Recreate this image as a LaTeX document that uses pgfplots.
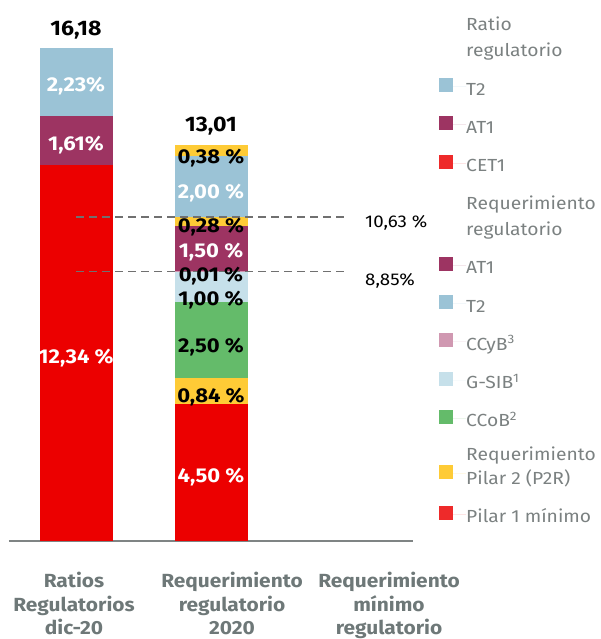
\documentclass[border=0pt]{standalone}
\usepackage{pgfplots}
\pgfplotsset{compat=1.18}
\usepackage{fontspec}
\setmainfont{Fira Sans}[FakeStretch=1.1]
\definecolor{redbar}{HTML}{EC0000}
\definecolor{redleg}{HTML}{EE2A2A}
\definecolor{tcol}{HTML}{9BC3D6}
\definecolor{atcol}{HTML}{9D3462}
\definecolor{ycol}{HTML}{FECB36}
\definecolor{gcol}{HTML}{64BB6A}
\definecolor{gsib}{HTML}{C6E0EA}
\definecolor{ccyb}{HTML}{D098B1}
\definecolor{leggray}{HTML}{7B8181}
\definecolor{tickgray}{HTML}{6E7878}
\definecolor{axgray}{HTML}{7F8484}
\definecolor{dashgray}{HTML}{707070}
\pgfplotsset{base/.style={scale only axis, width=404pt, height=541pt,
  xmin=9, xmax=413, ymin=0, ymax=17.755, enlargelimits=false, clip=false}}
\begin{document}
\begin{tikzpicture}
\begin{axis}[base,
  ybar stacked, bar width=73,
  axis x line*=bottom, axis y line=none,
  x axis line style={axgray, line width=1.6pt},
  major tick length=0pt,
  xtick={74,232,389},
  xticklabels={Ratios\\Regulatorios\\dic-20, Requerimiento\\regulatorio\\2020, Requerimiento\\mínimo\\regulatorio},
  xticklabel style={align=center, text=tickgray, font=\bfseries\fontsize{19}{23.5}\selectfont, inner sep=0pt, yshift=-31pt},
  ytick=\empty,
]
% Bar 1: Ratios regulatorios dic-20
\addplot[fill=redbar, draw=none] coordinates {(76,12.34) (211,0)};
\addplot[fill=atcol, draw=none] coordinates {(76,1.61) (211,0)};
\addplot[fill=tcol, draw=none] coordinates {(76,2.23) (211,0)};
% Bar 2: Requerimiento regulatorio 2020
\addplot[fill=redbar, draw=none] coordinates {(76,0) (211,4.50)};
\addplot[fill=ycol, draw=none] coordinates {(76,0) (211,0.84)};
\addplot[fill=gcol, draw=none] coordinates {(76,0) (211,2.50)};
\addplot[fill=gsib, draw=none] coordinates {(76,0) (211,1.00)};
\addplot[fill=ccyb, draw=none] coordinates {(76,0) (211,0.01)};
\addplot[fill=atcol, draw=none] coordinates {(76,0) (211,1.50)};
\addplot[fill=ycol, draw=none] coordinates {(76,0) (211,0.28)};
\addplot[fill=tcol, draw=none] coordinates {(76,0) (211,2.00)};
\addplot[fill=ycol, draw=none] coordinates {(76,0) (211,0.38)};
\end{axis}
\begin{axis}[base, axis lines=none, xtick=\empty, ytick=\empty,
  legend cell align=left,
  legend image code/.code={\fill[draw=none,overlay,yshift=1.5pt,#1] (0pt,-7pt) rectangle (14pt,7pt); \path[draw=none] (0pt,0pt) -- (27pt,0pt);},
  legend style={draw=none, fill=none, at={(axis description cs:1.0644,0.977)}, anchor=north west,
    font=\fontsize{17.5}{26}\selectfont, text=leggray, row sep=18.5pt, column sep=0pt, inner sep=0pt,
    nodes={inner sep=0pt, align=left}},
]
% dashed requirement lines
\addplot[dashgray, line width=1.5pt, dash pattern=on 8pt off 5pt, forget plot] coordinates {(76,10.63) (345,10.63)};
\addplot[dashgray, line width=1.5pt, dash pattern=on 8pt off 5pt, forget plot] coordinates {(76,8.85) (345,8.85)};
% white labels
\addplot[only marks, mark=none, forget plot, point meta=explicit symbolic, nodes near coords,
  every node near coord/.style={anchor=center, inner sep=0pt, yshift=-3pt, text=white, font=\bfseries\fontsize{20}{24}\selectfont}]
  coordinates {(76,15.04) [2,23\%] (76,13.10) [1,61\%] (76,6.10) [12,34 \%]
               (211,11.52) [2,00 \%] (211,9.58) [1,50 \%] (211,2.20) [4,50 \%]};
% black labels
\addplot[only marks, mark=none, forget plot, point meta=explicit symbolic, nodes near coords,
  every node near coord/.style={anchor=center, inner sep=0pt, yshift=-3pt, text=black, font=\bfseries\fontsize{20}{24}\selectfont}]
  coordinates {(211,12.66) [0,38 \%] (211,10.40) [0,28 \%] (211,8.80) [0,01 \%]
               (211,8.01) [1,00 \%] (211,6.47) [2,50 \%] (211,4.82) [0,84 \%]};
\addplot[only marks, mark=none, forget plot, point meta=explicit symbolic, nodes near coords,
  every node near coord/.style={anchor=center, inner sep=0pt, yshift=-3pt, text=black, font=\bfseries\fontsize{21}{24}\selectfont}]
  coordinates {(76,16.87) [16,18] (211,13.72) [13,01]};
% requirement values
\addplot[only marks, mark=none, forget plot, point meta=explicit symbolic, nodes near coords,
  every node near coord/.style={anchor=west, inner sep=0pt, text=black, font=\fontsize{17}{20}\selectfont}]
  coordinates {(365,10.45) [10,63 \%] (365,8.55) [8,85\%]};
% legend
\addlegendimage{empty legend}\addlegendentry{\strut Ratio\\\strut regulatorio}
\addlegendimage{fill=tcol}\addlegendentry{\strut T2}
\addlegendimage{fill=atcol}\addlegendentry{\strut AT1}
\addlegendimage{fill=redleg}\addlegendentry{\strut CET1}
\addlegendimage{empty legend}\addlegendentry{\strut Requerimiento\\\strut regulatorio}
\addlegendimage{fill=atcol}\addlegendentry{\strut AT1}
\addlegendimage{fill=tcol}\addlegendentry{\strut T2}
\addlegendimage{fill=ccyb}\addlegendentry{\strut CCyB\textsuperscript{3}}
\addlegendimage{fill=gsib}\addlegendentry{\strut G-SIB\textsuperscript{1}}
\addlegendimage{fill=gcol}\addlegendentry{\strut CCoB\textsuperscript{2}}
\addlegendimage{fill=ycol, yshift=-7pt}\addlegendentry{\rule{0pt}{10.2pt}Requerimiento\\[-2pt]\strut Pilar 2 (P2R)}
\addlegendimage{fill=redleg}\addlegendentry{\strut Pilar 1 mínimo}
\end{axis}
\pgfresetboundingbox
\path (-9pt,-98pt) rectangle (592pt,541pt);
\end{tikzpicture}
\end{document}
